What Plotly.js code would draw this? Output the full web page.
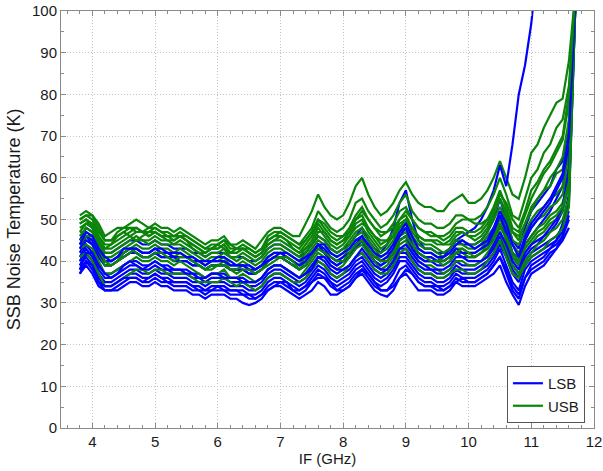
<!DOCTYPE html>
<html><head><meta charset="utf-8">
<script src="https://cdn.plot.ly/plotly-3.0.1.min.js"></script>
<style>html,body{margin:0;padding:0;background:#fff}</style>
</head><body><div id="chart" style="width:603px;height:471px"></div>
<script>
const freqGHz = [3.8,3.9,4.0,4.1,4.2,4.3,4.4,4.5,4.6,4.7,4.8,4.9,5.0,5.1,5.2,5.3,5.4,5.5,5.6,5.7,5.8,5.9,6.0,6.1,6.2,6.3,6.4,6.5,6.6,6.7,6.8,6.9,7.0,7.1,7.2,7.3,7.4,7.5,7.6,7.7,7.8,7.9,8.0,8.1,8.2,8.3,8.4,8.5,8.6,8.7,8.8,8.9,9.0,9.1,9.2,9.3,9.4,9.5,9.6,9.7,9.8,9.9,10.0,10.1,10.2,10.3,10.4,10.5,10.6,10.7,10.8,10.9,11.0,11.1,11.2,11.3,11.4,11.5,11.6,11.7];

const lsb1 = [45,48,47,44,42,42,43,44,45,45,44,44,45,44,44,43,43,43,42,42,41,42,42,42,41,41,41,40,40,41,43,44,44,43,42,41,42,44,46,45,43,42,43,44,46,48,45,43,42,44,48,54,57,50,45,43,43,42,42,43,45,44,44,44,45,47,50,55,50,45,43,48,52,54,56,58,62,64,72,102];
const lsb2 = [42,45,44,41,39,39,40,41,42,42,41,41,42,41,41,40,40,40,39,39,38,39,39,39,38,38,38,37,37,38,40,41,41,40,39,38,39,41,43,42,40,39,40,41,43,45,42,40,39,40,42,45,46,43,41,40,40,40,41,43,45,46,47,48,50,53,57,63,58,68,80,87,97,112,null,null,null,null,null,null];
const lsb3 = [44,46,44,41,39,39,40,41,42,42,41,41,42,41,41,41,40,40,39,39,38,39,39,39,38,38,38,37,37,38,40,41,41,40,39,38,39,41,44,42,40,39,40,41,44,45,42,40,39,40,42,45,46,43,41,40,40,39,39,40,42,41,41,41,42,43,46,49,46,41,39,44,46,48,50,52,55,58,66,101];
const lsb4 = [41,44,42,39,37,37,38,39,40,40,39,39,40,39,39,38,38,38,37,37,36,37,37,37,36,36,36,35,35,36,38,39,39,38,37,36,37,39,41,40,38,37,38,39,41,42,40,38,37,38,40,43,43,41,39,38,38,37,37,38,40,39,39,39,40,41,43,46,43,39,37,41,43,44,46,47,49,52,60,100];
const lsb5 = [40,43,41,38,36,36,37,38,39,39,38,38,39,38,38,37,37,37,36,36,35,36,36,36,35,35,35,34,34,35,37,38,38,37,36,35,36,38,40,39,37,36,37,38,40,41,39,37,36,37,39,42,42,40,38,37,37,36,36,37,39,38,38,38,39,40,42,45,42,38,36,40,42,43,44,45,46,48,52,null];
const lsb6 = [38,42,40,37,35,35,36,37,38,38,37,37,38,37,37,36,36,36,35,35,34,35,35,35,34,34,34,33,33,34,36,37,37,36,35,34,35,37,39,38,36,35,36,37,39,40,38,36,35,36,38,41,41,39,37,36,36,35,35,36,38,37,37,37,38,39,41,44,41,37,35,39,41,42,43,44,45,47,54,100];
const lsb7 = [39,41,39,36,34,34,35,36,37,37,36,36,37,36,36,35,35,35,34,34,33,34,34,34,33,33,33,32,32,33,35,36,36,35,34,33,34,36,38,37,35,34,35,36,38,39,37,35,34,35,37,40,40,38,36,35,35,34,34,35,37,36,36,36,37,38,40,43,39,35,33,38,40,41,42,43,44,46,50,null];
const lsb8 = [37,40,38,35,33,33,34,35,36,36,35,35,36,35,35,34,34,34,33,33,32,33,33,33,32,32,32,31,31,32,34,35,35,34,33,32,33,35,37,36,34,33,34,35,37,38,36,34,33,33,35,38,39,37,35,34,34,33,33,34,36,35,35,35,36,37,39,41,37,33,31,36,39,40,41,43,45,49,56,100];
const lsb9 = [37,39,37,34,33,33,33,34,35,35,34,34,35,34,34,33,33,33,32,32,31,32,32,32,31,31,30,29.5,30,31,33,34,34,33,32,31,32,33,35,34,32,32,33,34,36,37,35,33,32,31.5,33,36,37,35,33,33,33,32,32,33,35,34,34,34,35,36,37,39,35,32,29.5,34,37,38,39,41,43,45,48,null];
const lsb10 = [43,46,45,42,40,40,41,42,43,43,42,42,43,42,42,41,41,41,40,40,39,40,40,40,39,39,39,38,38,39,41,42,42,41,40,39,40,42,44,43,41,40,41,42,44,46,43,41,40,41,43,46,48,44,42,41,41,40,40,41,43,42,42,42,43,44,47,51,47,42,40,45,48,50,52,54,57,60,68,101];
const lsb11 = [39,42,42,39,37,36,37,39,40,39,38,39,40,39,38,38,38,37,37,36,36,37,37,36,36,36,35,35,35,36,38,39,39,38,37,36,37,38,41,41,39,38,38,39,41,43,41,39,38,38,40,43,44,42,40,39,38,38,38,39,41,41,40,40,40,41,44,47,44,40,38,42,44,45,46,48,50,53,62,101];
const lsb12 = [38,40,39,35,34,34,35,36,36,36,35,36,37,36,35,35,35,35,34,33,33,33,34,33,33,33,32,32,31,32,33,34,35,35,33,33,34,35,36,36,35,33,33,34,36,38,37,35,33,33,34,36,38,37,35,34,34,34,33,34,35,36,35,35,36,37,39,41,38,34,32,36,38,39,40,42,43,46,51,null];
const lsb13 = [44,47,46,43,41,40,41,43,43,43,42,42,43,43,42,42,42,41,41,40,40,40,41,41,40,39,39,39,38,39,40,41,42,42,41,40,41,42,44,44,42,41,42,43,45,46,44,42,41,42,44,47,49,46,43,42,42,41,41,42,44,45,44,43,44,45,48,52,49,44,41,46,49,51,53,55,58,61,70,102];

const usb1 = [51,52,51,49,46,47,48,48,49,50,49,48,49,48,48,47,48,47,46,45,44,45,45,46,44,44,45,44,43,45,47,48,48,47,46,46,49,52,56,53,51,50,51,54,58,60,56,53,51,52,54,57,59,56,54,53,53,52,52,54,55,56,54,54,55,57,60,64,60,56,55,60,66,68,72,75,78,79,88,104];
const usb2 = [50,51,50,47,45,45,46,47,48,48,47,47,48,47,47,46,47,46,45,44,43,44,44,45,43,43,44,43,42,43,46,47,47,46,45,44,46,48,52,50,48,47,48,50,54,55,52,50,48,49,51,54,56,52,50,49,49,48,48,49,51,51,50,50,51,53,56,60,56,51,50,55,60,62,66,68,72,74,82,104];
const usb3 = [49,50,49,46,44,44,45,46,47,48,47,46,47,46,46,46,46,45,44,43,42,43,43,44,42,42,43,42,41,42,45,46,46,45,44,43,45,47,50,48,46,45,46,48,51,53,50,48,46,47,49,52,53,50,48,47,47,46,45,46,48,48,47,47,48,50,53,57,53,48,47,51,55,58,61,63,66,69,78,103];
const usb4 = [47,49,49,46,43,43,44,45,46,47,47,46,47,46,46,45,46,45,44,43,42,43,43,44,42,42,43,42,41,42,44,45,45,44,43,42,44,46,49,47,45,44,45,47,50,51,48,46,44,45,47,50,51,48,46,45,45,44,44,45,47,47,46,46,47,49,52,55,52,47,45,49,52,55,57,60,62,65,74,103];
const usb5 = [48,49,48,45,42,42,43,44,45,46,45,45,46,45,45,44,45,44,43,42,41,42,42,43,41,41,42,41,40,41,43,44,44,43,42,41,43,45,48,46,44,43,44,46,49,50,47,45,43,44,46,49,50,47,45,44,44,43,42,43,45,45,44,44,45,47,50,53,50,45,44,47,50,52,53,55,56,58,66,102];
const usb6 = [46,48,47,44,41,41,42,43,44,45,45,44,45,44,44,44,44,43,42,41,40,41,41,42,41,40,41,40,39,40,42,43,43,42,41,40,42,44,46,45,43,42,43,45,47,48,46,44,42,43,45,48,49,46,44,43,43,42,41,42,44,44,43,43,44,46,48,51,48,44,42,45,48,50,51,53,54,56,63,102];
const usb7 = [47,47,46,43,40,40,41,42,43,44,43,43,44,43,43,42,43,42,41,40,39,40,40,41,39,39,40,39,38,39,41,42,42,41,40,39,41,43,45,44,42,41,42,44,46,47,45,43,41,42,44,47,48,45,43,42,42,41,40,41,43,43,42,42,43,45,47,50,47,42,41,44,46,48,49,51,52,54,60,101];
const usb8 = [45,46,45,42,39,39,40,41,42,43,42,42,43,42,42,41,42,41,40,39,38,39,39,40,38,38,39,38,37,38,40,41,41,40,39,38,40,42,44,43,41,40,41,43,45,46,44,42,40,41,43,46,47,44,42,41,41,40,39,40,42,42,41,41,42,44,46,49,45,41,39,42,44,46,47,49,50,52,58,101];
const usb9 = [43,44,43,40,37,37,38,39,40,41,40,40,41,40,40,39,40,39,38,37,36,37,37,38,36,36,37,36,35,36,38,39,39,38,37,36,38,40,42,41,39,38,39,41,43,44,42,40,38,39,41,44,45,42,40,39,39,38,37,38,40,40,39,39,40,42,44,47,43,39,37,40,42,44,45,47,48,50,55,100];
const usb10 = [41,42,40,37,34,34,35,36,37,38,38,37,38,38,37,37,37,37,36,35,35,35,35,36,35,34,35,34,33,34,36,37,37,36,35,35,36,38,40,39,37,36,37,39,41,42,40,38,37,37,39,42,43,40,38,37,37,36,36,37,38,38,37,37,38,40,42,45,41,37,36,39,41,42,43,45,46,48,53,100];
const usb11 = [49,50,48,44,43,44,46,47,46,45,46,47,47,46,45,45,46,45,43,42,42,43,44,43,42,43,43,42,41,42,44,45,46,45,43,42,43,44,47,47,45,44,45,46,48,49,48,46,45,45,46,48,50,48,46,45,45,45,44,44,46,47,46,45,46,48,51,55,51,47,46,49,53,55,57,58,61,62,70,103];
const usb12 = [44,46,46,43,40,39,40,42,43,42,41,41,42,42,41,40,41,41,40,39,38,38,39,39,38,37,38,38,37,38,39,40,41,41,40,38,39,41,43,42,41,40,40,42,44,45,43,41,40,40,42,45,46,44,42,41,40,40,40,41,42,43,42,41,42,43,45,48,46,42,40,43,45,47,48,50,51,53,59,101];
const usb13 = [50,51,51,48,45,45,47,48,48,47,47,48,48,47,46,46,46,46,45,44,43,43,44,45,44,43,43,43,42,43,45,46,47,46,45,44,45,47,50,49,47,46,46,47,50,52,50,48,47,47,48,50,52,50,48,47,46,46,46,47,49,50,50,49,49,50,52,56,54,50,48,52,57,59,62,64,67,70,80,104];

const lsbSeries = [lsb1,lsb2,lsb3,lsb4,lsb5,lsb6,lsb7,lsb8,lsb9,lsb10,lsb11,lsb12,lsb13];
const usbSeries = [usb1,usb2,usb3,usb4,usb5,usb6,usb7,usb8,usb9,usb10,usb11,usb12,usb13];
const seriesNames = ['LSB','USB'];
const blue = '#0000ff', green = '#0a850a';

const traces = [];
for (let i = 0; i < lsbSeries.length; i++) {
  traces.push({x: freqGHz, y: lsbSeries[i], type: 'scatter', mode: 'lines', name: seriesNames[0],
    legendgroup: 'lsb', showlegend: i === 0, line: {color: blue, width: 2.2}, connectgaps: false});
  traces.push({x: freqGHz, y: usbSeries[i], type: 'scatter', mode: 'lines', name: seriesNames[1],
    legendgroup: 'usb', showlegend: i === 0, line: {color: green, width: 2.2}, connectgaps: false});
}

const axisCommon = {
  showline: true, linecolor: '#8a8a8a', linewidth: 1, mirror: 'allticks',
  ticks: 'inside', ticklen: 5, tickcolor: '#8a8a8a',
  showgrid: true, gridcolor: '#c4c4c4', griddash: '1px,2px', gridwidth: 1,
  zeroline: false, ticklabeloverflow: 'allow',
  tickfont: {family: 'Liberation Sans, Arial, sans-serif', size: 15, color: '#1a1a1a'}
};

const layout = {
  width: 603, height: 471,
  margin: {l: 61, r: 9, t: 11, b: 43},
  paper_bgcolor: '#fff', plot_bgcolor: '#fff',
  font: {family: 'Liberation Sans, Arial, sans-serif', color: '#1a1a1a'},
  showlegend: true,
  legend: {x: 0.983, y: 0.012, xanchor: 'right', yanchor: 'bottom',
    bgcolor: '#fff', bordercolor: '#555', borderwidth: 1,
    font: {size: 15, color: '#1a1a1a'}, traceorder: 'normal', tracegroupgap: 0},
  xaxis: Object.assign({}, axisCommon, {
    range: [3.5, 12], dtick: 1, tick0: 0,
    minor: {dtick: 0.2, ticks: 'inside', ticklen: 3, tickcolor: '#8a8a8a', showgrid: false},
    title: {text: 'IF (GHz)', font: {size: 15, color: '#1a1a1a'}, standoff: 4}
  }),
  yaxis: Object.assign({}, axisCommon, {
    range: [0, 100], dtick: 10, tick0: 0,
    minor: {dtick: 5, ticks: 'inside', ticklen: 3, tickcolor: '#8a8a8a', showgrid: false},
    title: {text: 'SSB Noise Temperature (K)', font: {size: 18, color: '#1a1a1a'}, standoff: 6}
  })
};

Plotly.newPlot('chart', traces, layout, {staticPlot: true, displayModeBar: false});
</script></body></html>
